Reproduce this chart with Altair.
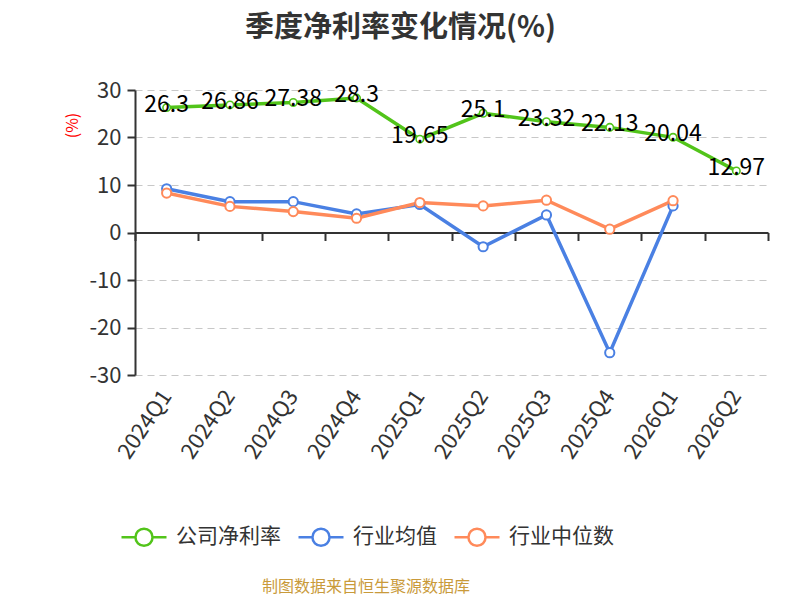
import altair as alt
import pandas as pd

quarters = ["2024Q1", "2024Q2", "2024Q3", "2024Q4", "2025Q1", "2025Q2",
            "2025Q3", "2025Q4", "2026Q1", "2026Q2"]
company = [26.3, 26.86, 27.38, 28.3, 19.65, 25.1, 23.32, 22.13, 20.04, 12.97]
ind_avg = [9.2, 6.5, 6.5, 3.9, 5.9, -3.0, 3.7, -25.3, 5.6, None]
ind_med = [8.3, 5.5, 4.4, 3.0, 6.3, 5.6, 6.8, 0.7, 6.7, None]
series_names = ["公司净利率", "行业均值", "行业中位数"]
colors = ["#52c41a", "#4a80e3", "#ff8a5a"]
title_text = "季度净利率变化情况(%)"
footer_text = "制图数据来自恒生聚源数据库"

rows = []
for name, vals in zip(series_names, [company, ind_avg, ind_med]):
    for q, v in zip(quarters, vals):
        if v is not None:
            rows.append({"quarter": q, "series": name, "value": v})
df = pd.DataFrame(rows)
df_company = df[df["series"] == series_names[0]]
df_industry = df[df["series"] != series_names[0]]
footer_df = pd.DataFrame({"t": [footer_text]})

FONT = "Noto Sans CJK SC"
W, H = 633, 285

x_scale = alt.Scale(type="band", paddingInner=0, paddingOuter=0)
x_main = alt.X("quarter:N", sort=quarters, scale=x_scale,
               axis=alt.Axis(orient="bottom", title=None, labelAngle=-56,
                             labelAlign="right", labelBaseline="middle",
                             labelFontSize=22, labelColor="#333333",
                             labelPadding=17, domain=False, ticks=False,
                             grid=False, labelFont=FONT))
y_enc = alt.Y("value:Q", scale=alt.Scale(domain=[-30, 30], nice=False, zero=False),
              axis=alt.Axis(values=[-30, -20, -10, 0, 10, 20, 30], title="(%)",
                            labelExpr="datum.value + ''",
                            titleColor="red", titleFontSize=16, titleFontWeight="normal",
                            titleFont=FONT, titleX=-63, titleY=35, titleAlign="center",
                            titleBaseline="middle", titleAngle=-90,
                            labelFontSize=22, labelColor="#333333", labelFont=FONT,
                            labelPadding=6, tickSize=8, tickColor="#333333",
                            tickWidth=2, domainColor="#333333", domainWidth=2,
                            gridDash=[7, 5], gridColor="#c8c8c8", gridWidth=1.2))

color_scale = alt.Scale(domain=series_names, range=colors)
stroke_leg = alt.Stroke("series:N", scale=color_scale,
                        legend=alt.Legend(title=None, orient="none", direction="horizontal",
                                          legendX=-15, legendY=423,
                                          symbolType="M-1,0L-0.38,0M0.38,0L1,0M-0.38,0A0.38,0.38 0 1,0 0.38,0A0.38,0.38 0 1,0 -0.38,0",
                                          symbolSize=2025, symbolStrokeWidth=2.5,
                                          symbolFillColor="white",
                                          labelFontSize=21, labelColor="#333333",
                                          labelFont=FONT, labelOffset=8,
                                          columnPadding=12, labelLimit=300))
stroke_nol = alt.Stroke("series:N", scale=color_scale, legend=None)

lines = alt.Chart(df).mark_line(strokeWidth=3.5).encode(
    x=x_main, y=y_enc, stroke=stroke_leg)

points_c = alt.Chart(df_company).mark_point(shape="circle", filled=False, fill="white",
                                            fillOpacity=1, opacity=1, strokeWidth=1.6,
                                            size=55).encode(
    x=x_main, y=y_enc, stroke=stroke_nol)

points_i = alt.Chart(df_industry).mark_point(shape="circle", filled=False, fill="white",
                                             fillOpacity=1, opacity=1, strokeWidth=2,
                                             size=85).encode(
    x=x_main, y=y_enc, stroke=stroke_nol)

labels = alt.Chart(df_company).mark_text(fontSize=23, color="black", dy=-3,
                                         align="center", baseline="middle",
                                         font=FONT).encode(
    x=x_main, y=y_enc, text=alt.Text("value:Q"))

footer = alt.Chart(footer_df).mark_text(fontSize=16, color="#c99a3a", font=FONT,
                                        align="center", baseline="middle").encode(
    x=alt.value(231), y=alt.value(497), text="t:N")

main = alt.layer(lines, points_i, points_c, labels, footer)

zero_axis = alt.Chart(df).mark_point(opacity=0).encode(
    x=alt.X("quarter:N", sort=quarters, scale=x_scale,
            axis=alt.Axis(orient="bottom", offset=-H / 2, labels=False, title=None,
                          ticks=True, tickBand="extent", tickSize=8, tickWidth=2,
                          tickColor="#333333", domain=True, domainColor="#333333",
                          domainWidth=2, grid=False)),
    y=y_enc)

chart = alt.layer(main, zero_axis).resolve_scale(x="independent").properties(
    width=W, height=H,
    autosize=alt.AutoSizeParams(type="none"),
    padding={"left": 127, "top": 82, "right": 20, "bottom": 235},
    title=alt.TitleParams(title_text, fontSize=29, fontWeight="bold", color="#333333",
                          font=FONT, anchor="middle", dx=-51, offset=36),
).configure_view(stroke=None)

chart.save("out.html", embed_options={"renderer": "svg", "actions": False})
